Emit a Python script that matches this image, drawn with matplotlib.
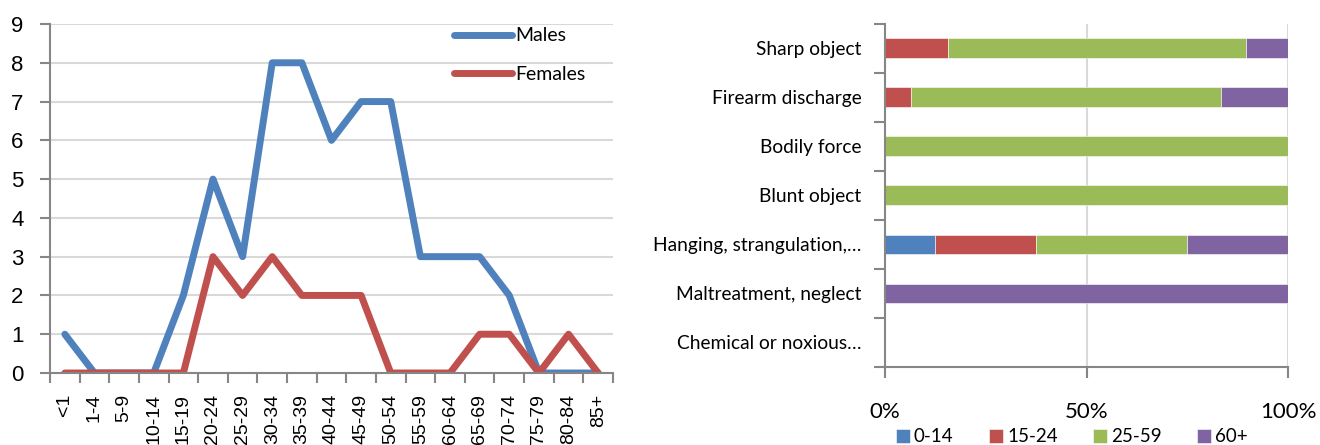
import numpy as np
import matplotlib
matplotlib.use('Agg')
import matplotlib.pyplot as plt

# left chart: counts by age group
ages = ['<1', '1-4', '5-9', '10-14', '15-19', '20-24', '25-29', '30-34', '35-39',
        '40-44', '45-49', '50-54', '55-59', '60-64', '65-69', '70-74', '75-79',
        '80-84', '85+']
males = [1, 0, 0, 0, 2, 5, 3, 8, 8, 6, 7, 7, 3, 3, 3, 2, 0, 0, 0]
females = [0, 0, 0, 0, 0, 3, 2, 3, 2, 2, 2, 0, 0, 0, 1, 1, 0, 1, 0]

# right chart: share by age band for each mechanism
mechanisms = ['Sharp object', 'Firearm discharge', 'Bodily force', 'Blunt object',
              'Hanging, strangulation,\u2026', 'Maltreatment, neglect',
              'Chemical or noxious\u2026']
bands = ['0-14', '15-24', '25-59', '60+']
share_0_14 = [0.0, 0.0, 0.0, 0.0, 0.125, 0.0, 0.0]
share_15_24 = [0.156, 0.065, 0.0, 0.0, 0.25, 0.0, 0.0]
share_25_59 = [0.739, 0.769, 1.0, 1.0, 0.375, 0.0, 0.0]
share_60p = [0.105, 0.166, 0.0, 0.0, 0.25, 1.0, 0.0]

blue = '#4F81BD'
red = '#C0504D'
green = '#9BBB59'
purple = '#8064A2'
axcol = '#868686'
gridcol = '#D9D9D9'

fig = plt.figure(figsize=(13.2, 4.45), dpi=100)

# ---------- left: line chart ----------
ax1 = fig.add_axes([50 / 1320, 1 - 373 / 445, 563 / 1320, 349 / 445])
x = np.arange(len(ages))
ax1.plot(x, males, color=blue, lw=5, solid_capstyle='round', label='Males')
ax1.plot(x, females, color=red, lw=5, solid_capstyle='round', label='Females')
ax1.set_xlim(-0.5, len(ages) - 0.5)
ax1.set_ylim(0, 9)
ax1.set_yticks(range(10))
ax1.yaxis.grid(True, color=gridcol, lw=1.5)
ax1.set_axisbelow(True)
for s in ['top', 'right']:
    ax1.spines[s].set_visible(False)
for s in ['left', 'bottom']:
    ax1.spines[s].set_color(axcol)
    ax1.spines[s].set_linewidth(1.5)
ax1.set_xticks(x)
ax1.set_xticklabels(ages, rotation=90, fontsize=14, family='Liberation Sans')
ax1.set_xticks(np.arange(-0.5, len(ages), 1), minor=True)
ax1.tick_params(axis='x', which='major', length=0, pad=15)
ax1.tick_params(axis='x', which='minor', length=7, width=1.5, color=axcol)
ax1.tick_params(axis='y', length=7, width=1.5, color=axcol, labelsize=16, pad=12)
for t in ax1.get_yticklabels():
    t.set_family('Liberation Sans')
ax1.legend(loc='upper left', bbox_to_anchor=(404 / 563, 0.99), frameon=False,
           borderpad=0, borderaxespad=0,
           handlelength=3.0, handletextpad=0.15, labelspacing=1.1,
           prop={'family': 'Lato', 'size': 14})

# ---------- right: 100% stacked bars ----------
ax2 = fig.add_axes([885 / 1320, 1 - 367 / 445, 403 / 1320, 343.5 / 445])
y = np.arange(len(mechanisms))
left = np.zeros(len(mechanisms))
for vals, col, lab in zip([share_0_14, share_15_24, share_25_59, share_60p],
                          [blue, red, green, purple], bands):
    ax2.barh(y, vals, left=left, height=0.4, color=col, edgecolor='white',
             linewidth=0.4, label=lab)
    left += np.array(vals)
ax2.set_xlim(0, 1)
ax2.set_ylim(len(mechanisms) - 0.5, -0.5)
ax2.set_xticks([0, 0.5, 1])
ax2.set_xticklabels(['0%', '50%', '100%'], family='Lato', fontsize=16)
ax2.xaxis.grid(True, color=gridcol, lw=1.5)
ax2.set_axisbelow(True)
ax2.set_yticks(y)
ax2.set_yticklabels(mechanisms, family='Lato', fontsize=13.8)
ax2.set_yticks(np.arange(-0.5, len(mechanisms), 1), minor=True)
ax2.tick_params(axis='y', which='major', length=0, pad=17)
ax2.tick_params(axis='y', which='minor', length=8, width=1.5, color=axcol)
ax2.tick_params(axis='x', length=8, width=1.5, color=axcol, pad=17)
for s in ['top', 'right']:
    ax2.spines[s].set_visible(False)
for s in ['left', 'bottom']:
    ax2.spines[s].set_color(axcol)
    ax2.spines[s].set_linewidth(1.5)
fig.legend(*ax2.get_legend_handles_labels(), loc='center',
           bbox_to_anchor=(1072 / 1320, 1 - 437 / 445), ncol=4, frameon=False,
           handlelength=0.75, handleheight=0.75, handletextpad=0.2,
           columnspacing=1.9, prop={'family': 'Lato', 'size': 13.5})

fig.savefig('out.png', dpi=100)
